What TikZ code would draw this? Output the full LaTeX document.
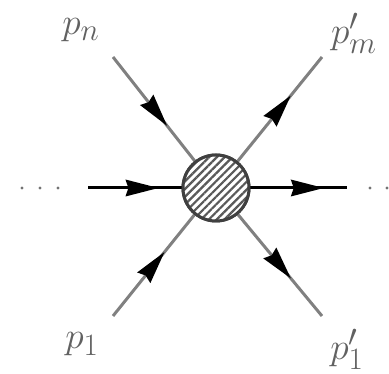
\documentclass[tikz,border=0pt]{standalone}
\usetikzlibrary{arrows.meta,decorations.markings,patterns.meta}
\begin{document}
\begin{tikzpicture}[x=1pt,y=-1pt,
  leg/.style={draw=black!50,line width=3pt},
  hleg/.style={draw=black,line width=3pt},
  tipat/.style={postaction={decorate,decoration={markings,
      mark=at position #1 with {\fill[black] (0pt,0pt) -- (-33pt,8.5pt) -- (-30pt,0pt) -- (-33pt,-8.5pt) -- cycle;}}}},
  blob/.style={circle,minimum size=66pt,inner sep=0pt,draw=black!75,line width=3pt,
      preaction={fill=white},pattern={Lines[angle=45,distance=5.5pt,line width=2.2pt]},pattern color=black!65},
  lab/.style={text=black!62,font=\Huge,inner sep=0pt,scale=1.5},
  dotm/.style={fill=black!55,draw=none}]
\useasboundingbox (0,0) rectangle (389,374);
\node[blob] (c) at (216,188) {};
\coordinate (ul) at (113,57);
\coordinate (ur) at (322,57);
\coordinate (ll) at (113,316);
\coordinate (lr) at (322,316);
\coordinate (hl) at (88,188);
\coordinate (hr) at (347,188);
\draw[leg,tipat=0.66] (ul) -- (c);
\draw[leg,tipat=0.63] (ll) -- (c);
\draw[leg,tipat=0.63] (c) -- (ur);
\draw[leg,tipat=0.63] (c) -- (lr);
\draw[hleg,tipat=0.75] (hl) -- (c);
\draw[hleg,tipat=0.76] (c) -- (hr);
\node[blob] at (c) {};
\foreach \x in {22,40,58,370,387} \fill[dotm] (\x,188) circle (1.6pt);
\node[lab] (pn) at (81,30) {$p_n$};
\node[lab] (pm) at (354,33) {$p'_m$};
\node[lab] (p1) at (82,344) {$p_1$};
\node[lab] (pp1) at (347,349) {$p'_1$};
\end{tikzpicture}
\end{document}
